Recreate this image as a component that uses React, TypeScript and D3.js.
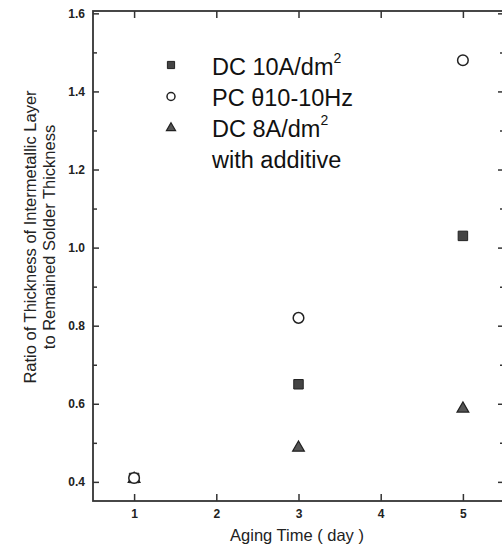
import React, { useRef, useEffect } from "react";
import * as d3 from "d3";

const days = [1, 3, 5];
const dc10 = [0.41, 0.65, 1.03];
const pc = [0.41, 0.82, 1.48];
const dc8 = [0.41, 0.49, 0.59];
const xTicks = [1, 2, 3, 4, 5];
const yTicks = [0.4, 0.6, 0.8, 1.0, 1.2, 1.4, 1.6];
const legendLabels = ["DC 10A/dm", "PC \u03b810-10Hz", "DC 8A/dm", "with additive"];

const App = () => {
  const svgRef = useRef(null);

  useEffect(() => {
    const svg = d3.select(svgRef.current);
    svg.selectAll("*").remove();
    const left = 93, right = 504, top = 11, bottom = 501;
    const font = "Liberation Sans, Arial, sans-serif";

    const x = d3.scaleLinear().domain([0.5, 5.5]).range([left, right]);
    const y = d3.scaleLinear().domain([0.351, 1.606]).range([bottom, top]);

    const g = svg.append("g");

    // frame
    g.append("rect")
      .attr("x", left).attr("y", top)
      .attr("width", right - left).attr("height", bottom - top)
      .attr("fill", "none").attr("stroke", "#333").attr("stroke-width", 1.8);

    const yMinor = d3.range(0.5, 1.6, 0.2);

    // bottom axis
    const xAxis = d3.axisBottom(x).tickValues(xTicks).tickSize(-7).tickPadding(8)
      .tickFormat(d3.format("d"));
    g.append("g").attr("transform", `translate(0,${bottom})`).call(xAxis)
      .call((a) => a.select(".domain").remove());
    // top axis ticks
    g.append("g").attr("transform", `translate(0,${top})`)
      .call(d3.axisTop(x).tickValues(xTicks).tickSize(-7).tickFormat(() => ""))
      .call((a) => a.select(".domain").remove());

    // left axis
    const yAxis = d3.axisLeft(y).tickValues(yTicks).tickSize(-6).tickPadding(8)
      .tickFormat(d3.format(".1f"));
    g.append("g").attr("transform", `translate(${left},0)`).call(yAxis)
      .call((a) => a.select(".domain").remove());
    g.append("g").attr("transform", `translate(${left},0)`)
      .call(d3.axisLeft(y).tickValues(yMinor).tickSize(-4).tickFormat(() => ""))
      .call((a) => a.select(".domain").remove());
    // right axis ticks
    g.append("g").attr("transform", `translate(${right},0)`)
      .call(d3.axisRight(y).tickValues(yTicks).tickSize(-6).tickFormat(() => ""))
      .call((a) => a.select(".domain").remove());
    g.append("g").attr("transform", `translate(${right},0)`)
      .call(d3.axisRight(y).tickValues(yMinor).tickSize(-4).tickFormat(() => ""))
      .call((a) => a.select(".domain").remove());

    g.selectAll(".tick line").attr("stroke", "#333").attr("stroke-width", 1.5);
    g.selectAll(".tick text")
      .attr("fill", "#222")
      .style("font-family", font)
      .style("font-size", "12px")
      .style("font-weight", "bold");

    const drawSquare = (px, py, s) =>
      g.append("path").attr("d", d3.symbol().type(d3.symbolSquare).size(s)())
        .attr("transform", `translate(${px},${py})`)
        .attr("fill", "#444").attr("stroke", "#222").attr("stroke-width", 1);
    const drawCircle = (px, py, r) =>
      g.append("circle").attr("cx", px).attr("cy", py).attr("r", r)
        .attr("fill", "white").attr("stroke", "#222").attr("stroke-width", 1.5);
    const drawTri = (px, py, s) =>
      g.append("path").attr("d", d3.symbol().type(d3.symbolTriangle).size(s)())
        .attr("transform", `translate(${px},${py + 1})`)
        .attr("fill", "#555").attr("stroke", "#222").attr("stroke-width", 1.2);

    days.forEach((d, i) => {
      drawTri(x(d), y(dc8[i]), 60);
      drawSquare(x(d), y(dc10[i]), 90);
      drawCircle(x(d), y(pc[i]), 5.3);
    });

    // legend
    const legY = [65, 96.5, 128];
    drawSquare(171, legY[0], 52);
    drawCircle(171, legY[1], 4);
    drawTri(171, legY[2] - 1, 36);
    const baseY = [75, 106, 137, 168];
    legendLabels.forEach((t, i) => {
      const txt = g.append("text").attr("x", 212).attr("y", baseY[i])
        .attr("fill", "#111")
        .style("font-family", font)
        .style("font-size", "23.5px")
        .text(t);
      if (i === 0 || i === 2) {
        txt.append("tspan").attr("dy", -12).style("font-size", "14px").text("2");
      }
    });

    // axis titles
    g.append("text").attr("x", 297).attr("y", 541).attr("text-anchor", "middle")
      .attr("fill", "#222")
      .style("font-family", font)
      .style("font-size", "16.5px")
      .text("Aging Time ( day )");

    const yt = g.append("text")
      .attr("transform", `translate(36,237) rotate(-90)`)
      .attr("text-anchor", "middle")
      .attr("fill", "#222")
      .style("font-family", font)
      .style("font-size", "16.5px");
    yt.append("tspan").attr("x", 0).attr("dy", 0).text("Ratio of Thickness of Intermetallic Layer");
    yt.append("tspan").attr("x", 0).attr("dy", 18.5).text("to Remained Solder Thickness");
  }, []);

  return (
    <svg ref={svgRef} width={502} height={547}
      style={{ position: "absolute", left: 0, top: 0, background: "white" }} />
  );
};

export default App;
